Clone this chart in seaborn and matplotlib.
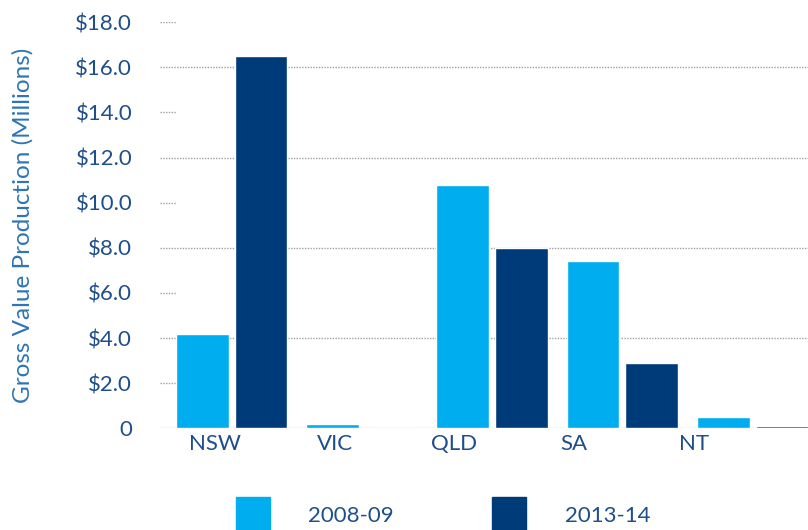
import seaborn as sns
import matplotlib.pyplot as plt
import pandas as pd
from matplotlib.lines import Line2D

states = ["NSW", "VIC", "QLD", "SA", "NT"]
years = ["2008-09", "2013-14"]
val_0809 = [4.2, 0.2, 10.8, 7.4, 0.5]
val_1314 = [16.5, 0.0, 8.0, 2.9, 0.1]
yticks = [0, 2, 4, 6, 8, 10, 12, 14, 16, 18]
ytick_labels = ["0", "$2.0", "$4.0", "$6.0", "$8.0", "$10.0", "$12.0", "$14.0", "$16.0", "$18.0"]

colors = ["#00AEEF", "#003B79"]
txt = "#1F4E8C"

df = pd.DataFrame({
    "state": states * 2,
    "year": [years[0]] * 5 + [years[1]] * 5,
    "value": val_0809 + val_1314,
})

sns.set_style("white")
plt.rcParams['font.family'] = ['Lato', 'DejaVu Sans']

fig = plt.figure(figsize=(8.08, 5.30), dpi=100)
ax = fig.add_axes([0.198, 0.192, 0.806, 0.766])

sns.barplot(data=df, x="state", y="value", hue="year", palette=colors,
            width=0.9, gap=0.1, saturation=1, legend=False, ax=ax, zorder=3)

ax.set_ylim(0, 18)
ax.set_xlim(-0.55, 4.45)
ax.set_yticks(yticks)
ax.set_yticklabels(ytick_labels, fontsize=16, color=txt)
ax.tick_params(axis='y', length=0, pad=20)
# category labels sit a little left of the bar pairs, as in the original
ax.set_xticks([-0.13 + 0.92 * i for i in range(len(states))])
ax.set_xticklabels(states)
ax.tick_params(axis='x', length=0, labelsize=16, labelcolor=txt, pad=4)
ax.set_xlabel("")
ax.set_ylabel("Gross Value Production (Millions)", fontsize=17.5, color="#2E75B6", labelpad=30)

# full dotted gridlines every 4, short dotted stubs at the other ticks
for t in yticks:
    if t % 4 == 0:
        ax.axhline(t, color="#A0A0A0", lw=1, ls=(0, (1, 1)), zorder=1)
    else:
        ax.plot([-0.55, -0.43], [t, t], color="#A0A0A0", lw=1, ls=(0, (1, 1)), zorder=1)

for s in ax.spines.values():
    s.set_visible(False)

handles = [Line2D([], [], marker='s', ls='', markersize=25, color=c) for c in colors]
fig.legend(handles, years, loc='lower center', bbox_to_anchor=(0.545, -0.03), ncol=2,
           frameon=False, fontsize=16, labelcolor=txt, handletextpad=1.5,
           columnspacing=4.2)

fig.savefig("out.png", dpi=100)
